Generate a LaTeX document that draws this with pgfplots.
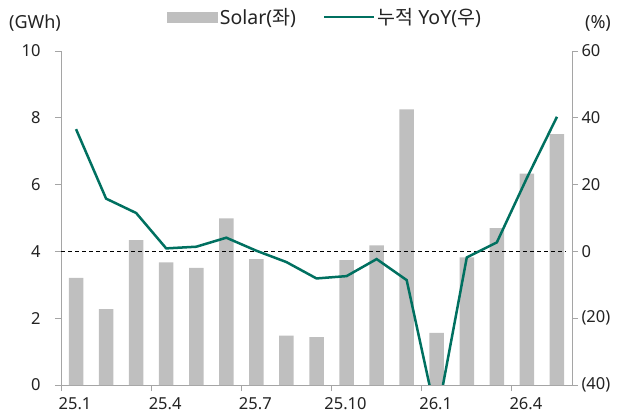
\documentclass[border=0pt]{standalone}
\usepackage{fontspec}
\setmainfont{Noto Sans}
\newfontfamily\kr{Noto Sans CJK KR}
\usepackage{pgfplots}
\usepackage{pgfplotstable}
\pgfplotsset{compat=1.18}

\definecolor{solar}{RGB}{191,191,191}
\definecolor{yoy}{RGB}{0,112,96}
\definecolor{axisgray}{RGB}{165,165,165}
\definecolor{txt}{RGB}{35,35,35}

% month index, Solar (GWh, left), cumulative YoY (%, right)
\pgfplotstableread{
x  solar  yoy
0  3.21   36.6
1  2.27   15.8
2  4.34   11.5
3  3.67    0.9
4  3.51    1.4
5  4.99    4.1
6  3.77    0.2
7  1.48   -3.2
8  1.43   -8.1
9  3.74   -7.4
10 4.18   -2.3
11 8.25   -8.6
12 1.56  -50.0
13 3.82   -1.8
14 4.70    2.7
15 6.33   22.0
16 7.51   40.3
}\datatable

\begin{document}
\begin{tikzpicture}[font=\fontsize{18bp}{21bp}\selectfont, text=txt]
\pgfplotsset{
  base/.style={
    scale only axis, width=511bp, height=334bp,
    xmin=-0.5, xmax=16.5,
    axis line style={axisgray, line width=0.8bp},
    tick style={axisgray, line width=0.8bp},
    major tick length=6bp, tick align=outside,
    /pgf/number format/assume math mode=true,
    ticklabel style={font=\fontsize{16.5bp}{19bp}\selectfont, text=txt},
  },
}
\begin{axis}[base,
    axis y line*=left, axis x line*=bottom,
    ymin=0, ymax=10, ytick={0,2,...,10},
    yticklabel style={xshift=-11bp},
    xtick={-0.5,2.5,5.5,8.5,11.5,14.5},
    xticklabels={25.1,25.4,25.7,25.10,26.1,26.4},
    xticklabel style={xshift=14bp, yshift=-3bp},
]
\addplot[ybar, bar width=14.5bp, fill=solar, draw=none] table[x=x, y=solar] {\datatable};
\coordinate (O) at (rel axis cs:0,0);
\coordinate (TL) at (rel axis cs:0,1);
\coordinate (TR) at (rel axis cs:1,1);
\end{axis}

\begin{axis}[base,
    axis y line*=right, axis x line=none,
    ymin=-40, ymax=60, ytick={-40,-20,...,60},
    yticklabels={(40),(20),0,20,40,60},
    legend columns=2,
    legend style={at={(axis description cs:0.517,1.102)}, anchor=center,
      draw=none, fill=none, nodes={inner sep=2bp},
      font=\fontsize{19.5bp}{22bp}\selectfont,
      /tikz/every even column/.append style={column sep=25bp}},
]
\addlegendimage{legend image code/.code={\fill[solar] (0bp,-5bp) rectangle (50bp,5bp);}}
\addlegendentry{Solar({\kr 좌})}
\addplot[black, line width=1bp, dash pattern=on 4bp off 3bp, forget plot]
  coordinates {(-0.5,0) (16.3,0)};
\addplot[yoy, line width=2.5bp,
  legend image code/.code={\draw[yoy, line width=2.5bp] (0bp,0bp) -- (50bp,0bp);}]
  table[x=x, y=yoy] {\datatable};
\addlegendentry{{\kr 누적} YoY({\kr 우})}
\end{axis}

\node at ([shift={(-26bp,27.5bp)}]TL) {(GWh)};
\node at ([shift={(26bp,27.5bp)}]TR) {(\%)};

\pgfresetboundingbox
\path (O) ++(-61bp,-29bp) rectangle ++(620bp,414bp);
\end{tikzpicture}
\end{document}
